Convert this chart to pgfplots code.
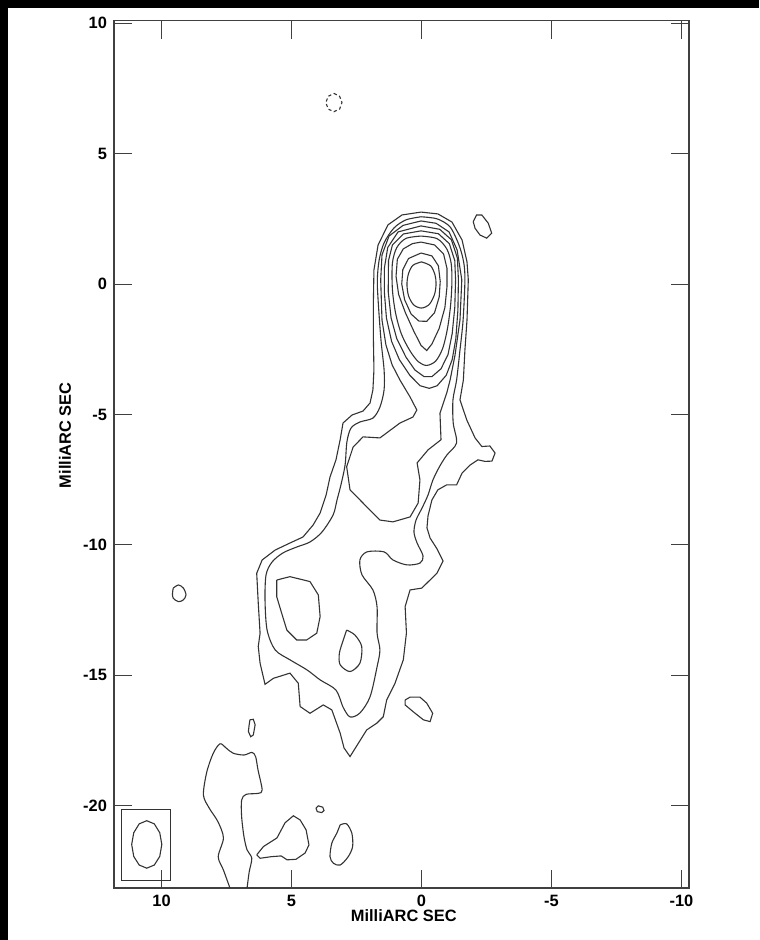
\documentclass[border=0pt]{standalone}
\usepackage{fontspec}
\setmainfont{Liberation Sans}
\usepackage{pgfplots}
\pgfplotsset{compat=1.18}
\begin{document}
\begin{tikzpicture}
\path[use as bounding box] (0,0) rectangle (379.5pt,470pt);
\fill[black] (0,466pt) rectangle (379.5pt,470pt);
\fill[black] (0,0) rectangle (4pt,470pt);
\begin{axis}[
  at={(57pt,26pt)}, anchor=south west,
  scale only axis, width=287.5pt, height=433.65pt,
  x dir=reverse,
  xmin=-10.29, xmax=11.83, ymin=-23.16, ymax=10.1,
  xtick={-10,-5,0,5,10}, ytick={-20,-15,-10,-5,0,5,10},
  tick align=inside, major tick length=9pt,
  axis line style={draw=black!75, line width=0.6pt},
  tick style={draw=black!75, line width=0.55pt},
  ticklabel style={font=\fontsize{8.2}{9.8}\selectfont\bfseries},
  /pgf/number format/assume math mode=true,
  xlabel={MilliARC SEC}, ylabel={MilliARC SEC},
  every axis x label/.style={at={(axis description cs:0.504,-0.0323)}, anchor=center, font=\fontsize{8.2}{9.8}\selectfont\bfseries},
  every axis y label/.style={at={(axis description cs:-0.0852,0.522)}, anchor=center, rotate=90, font=\fontsize{8.2}{9.8}\selectfont\bfseries},
  clip=true,
  cycle list={{black!80, smooth, tension=0.55}},
  every axis plot post/.append style={draw=black!80, line width=0.55pt, mark=none},
]
% ---- outer contour (lowest level) ----
\addplot coordinates {
(0.02,2.76) (-0.63,2.69) (-1.17,2.38) (-1.56,1.69) (-1.75,0.85) (-1.8,0.16) (-1.75,-1.38) (-1.67,-2.53) (-1.61,-3.68) (-1.48,-4.44) (-1.74,-5.21) (-2.06,-5.9) (-2.32,-6.23) (-2.63,-6.21) (-2.83,-6.48) (-2.71,-6.79) (-2.44,-6.8) (-2.17,-6.74) (-1.87,-6.94) (-1.56,-7.25) (-1.35,-7.7) (-0.97,-7.7) (-0.63,-7.89) (-0.4,-8.28) (-0.25,-8.89) (-0.21,-9.35) (-0.33,-9.74) (-0.6,-10.16) (-0.83,-10.62) (-0.6,-11.08) (-0.45,-11.23) (-0.01,-11.66) (0.44,-11.73) (0.63,-12.37) (0.58,-13.38) (0.7,-14.41) (1.02,-15.31) (1.34,-15.95) (1.47,-16.59) (1.72,-16.84) (2.11,-17.1) (2.43,-17.61) (2.75,-18.12) (2.98,-17.79) (3.13,-17.22) (3.45,-16.33) (3.78,-16.14) (4.29,-16.46) (4.67,-16.2) (4.74,-15.31) (5.06,-14.92) (5.7,-15.12) (6.02,-15.35) (6.21,-14.54) (6.28,-13.9) (6.21,-13.39) (6.28,-12.24) (6.34,-11.09) (6.13,-10.58) (5.63,-10.2) (5.06,-9.93) (4.56,-9.7) (4.17,-9.24) (3.9,-8.78) (3.67,-8.09) (3.52,-7.4) (3.29,-6.74) (3.13,-5.97) (3.02,-5.33) (2.67,-5.02) (2.25,-4.87) (1.98,-4.56) (1.87,-4.06) (1.83,-3.29) (1.85,-2.14) (1.85,-0.61) (1.83,0.54) (1.67,1.5) (1.29,2.27) (0.75,2.65) (0.02,2.76)
};
% ---- second contour ----
\addplot coordinates {
(0.02,2.58) (-0.6,2.5) (-1.1,2.19) (-1.44,1.5) (-1.62,0.85) (-1.67,0.16) (-1.6,-1.38) (-1.48,-2.53) (-1.35,-3.68) (-1.21,-4.44) (-1.22,-5.33) (-1.35,-6.09) (-0.98,-6.55) (-0.71,-6.97) (-0.44,-7.51) (-0.25,-8.09) (-0.02,-8.59) (0.21,-9.05) (0.29,-9.51) (0.17,-9.93) (-0.06,-10.43) (0.06,-10.7) (0.56,-10.77) (1.1,-10.58) (1.44,-10.27) (2.1,-10.27) (2.37,-10.58) (2.29,-11.15) (1.87,-11.73) (1.71,-12.38) (1.71,-13.38) (1.6,-14.03) (1.71,-14.68) (1.98,-15.83) (2.37,-16.45) (2.75,-16.6) (3.02,-16.22) (3.29,-15.57) (3.9,-15.18) (4.4,-14.8) (5.06,-14.41) (5.63,-14.03) (5.94,-13.27) (6.02,-12.12) (5.98,-11.15) (5.75,-10.66) (5.33,-10.31) (4.79,-10.08) (4.29,-9.89) (3.83,-9.51) (3.4,-8.85) (3.25,-8.28) (3.1,-7.7) (2.94,-6.94) (2.87,-6.05) (2.71,-5.52) (2.37,-5.29) (1.87,-5.14) (1.6,-4.72) (1.44,-4.06) (1.44,-3.29) (1.56,-2.14) (1.67,-0.61) (1.7,0.16) (1.63,0.92) (1.44,1.58) (1.06,2.15) (0.6,2.46) (0.02,2.58)
};
% ---- third contour ----
\addplot coordinates {
(0.02,2.42) (-0.56,2.33) (-1.06,2.0) (-1.37,1.31) (-1.55,0.16) (-1.48,-1.38) (-1.29,-2.72) (-1.1,-3.68) (-0.97,-4.18) (-0.71,-4.95) (-0.75,-5.97) (-0.25,-6.36) (0.17,-6.86) (0.06,-7.51) (0.13,-8.4) (0.44,-8.93) (1.1,-9.12) (1.6,-9.05) (2.1,-8.55) (2.75,-7.89) (2.88,-7.0) (2.63,-6.25) (2.25,-5.86) (1.6,-5.9) (1.33,-5.7) (0.83,-5.33) (0.33,-5.1) (0.18,-4.83) (0.44,-4.33) (0.83,-3.68) (1.13,-3.1) (1.37,-2.33) (1.52,-1.38) (1.57,0.16) (1.52,1.12) (1.25,1.84) (0.71,2.25) (0.02,2.42)
};
\addplot coordinates {
(5.57,-11.35) (5.06,-11.22) (4.29,-11.41) (3.97,-11.92) (3.9,-12.75) (4.03,-13.39) (4.42,-13.65) (4.8,-13.65) (5.18,-13.27) (5.38,-12.62) (5.57,-11.99) (5.57,-11.35)
};
\addplot coordinates {
(2.88,-13.27) (2.56,-13.46) (2.3,-13.9) (2.37,-14.54) (2.75,-14.86) (3.13,-14.6) (3.16,-14.16) (3.01,-13.65) (2.88,-13.27)
};
% ---- core contours ----
\addplot coordinates {
(0.02,2.23) (-0.7,2.1) (-1.15,1.7) (-1.38,1.0) (-1.42,0.16) (-1.4,-1.0) (-1.32,-2.1) (-1.18,-2.9) (-0.95,-3.5) (-0.6,-3.9) (-0.3,-4.0) (0.05,-3.9) (0.45,-3.5) (0.85,-2.9) (1.15,-2.2) (1.35,-1.3) (1.43,-0.3) (1.43,0.6) (1.3,1.4) (0.9,2.0) (0.02,2.23)
};
\addplot coordinates {
(0.02,2.04) (-0.65,1.93) (-1.07,1.55) (-1.28,0.9) (-1.31,0.16) (-1.28,-0.9) (-1.18,-1.9) (-1.02,-2.7) (-0.75,-3.25) (-0.4,-3.55) (-0.1,-3.55) (0.25,-3.3) (0.6,-2.8) (0.95,-2.1) (1.17,-1.3) (1.28,-0.3) (1.27,0.9) (1.12,1.5) (0.7,1.92) (0.02,2.04)
};
\addplot coordinates {
(0.02,1.84) (-0.6,1.74) (-0.97,1.35) (-1.14,0.8) (-1.17,0.1) (-1.12,-0.8) (-1.0,-1.7) (-0.82,-2.45) (-0.55,-2.95) (-0.2,-3.12) (0.12,-2.98) (0.45,-2.55) (0.78,-1.9) (1.0,-1.1) (1.12,-0.2) (1.12,0.8) (0.95,1.4) (0.6,1.75) (0.02,1.84)
};
\addplot coordinates {
(0.02,1.61) (-0.5,1.5) (-0.85,1.15) (-0.98,0.6) (-0.98,-0.1) (-0.9,-0.9) (-0.68,-1.7) (-0.4,-2.3) (-0.2,-2.55) (0.02,-2.35) (0.3,-1.8) (0.62,-1.1) (0.88,-0.4) (0.98,0.3) (0.93,0.95) (0.7,1.35) (0.35,1.55) (0.02,1.61)
};
\addplot coordinates {
(0.02,1.19) (-0.4,1.08) (-0.65,0.7) (-0.72,0.1) (-0.68,-0.5) (-0.5,-1.1) (-0.2,-1.43) (0.1,-1.42) (0.4,-1.15) (0.65,-0.6) (0.76,0.0) (0.72,0.55) (0.5,0.98) (0.02,1.19)
};
\addplot coordinates {
(0,0.85) (-0.35,0.7) (-0.52,0.35) (-0.56,0) (-0.5,-0.4) (-0.3,-0.78) (0,-0.92) (0.3,-0.8) (0.5,-0.45) (0.56,0) (0.5,0.4) (0.33,0.72) (0,0.85)
};
% ---- isolated features ----
\addplot+[dash pattern=on 1.6pt off 1.3pt] coordinates {
(3.37,7.31) (3.15,7.2) (3.06,6.96) (3.15,6.71) (3.37,6.61) (3.59,6.71) (3.68,6.96) (3.59,7.2) (3.37,7.31)
};
\addplot coordinates {
(-1.99,2.39) (-2.12,2.65) (-2.32,2.65) (-2.57,2.33) (-2.7,1.95) (-2.51,1.76) (-2.25,1.88) (-2.06,2.14) (-1.99,2.39)
};
\addplot coordinates {
(9.55,-11.66) (9.35,-11.54) (9.16,-11.66) (9.06,-11.92) (9.16,-12.11) (9.35,-12.18) (9.55,-12.05) (9.58,-11.86) (9.55,-11.66)
};
\addplot coordinates {
(6.6,-16.71) (6.47,-16.69) (6.4,-16.9) (6.47,-17.29) (6.57,-17.36) (6.66,-17.16) (6.63,-16.9) (6.6,-16.71)
};
\addplot coordinates {
(0.63,-15.95) (0.44,-15.84) (0.06,-15.84) (-0.2,-16.07) (-0.43,-16.46) (-0.33,-16.78) (-0.07,-16.71) (0.32,-16.4) (0.63,-16.14) (0.63,-15.95)
};
\addplot coordinates {
(7.37,-23.16) (7.62,-22.47) (7.82,-21.96) (7.62,-21.24) (7.83,-20.62) (8.17,-20.09) (8.39,-19.59) (8.26,-18.71) (8.01,-17.99) (7.75,-17.63) (7.52,-17.79) (7.25,-17.99) (6.83,-18.06) (6.52,-17.96) (6.38,-18.13) (6.29,-18.63) (6.13,-19.4) (6.28,-19.53) (6.75,-19.57) (6.92,-19.79) (6.92,-20.42) (6.83,-21.19) (6.71,-21.7) (6.53,-22.02) (6.63,-22.55) (6.71,-23.16)
};
\addplot coordinates {
(6.34,-21.89) (6.08,-21.57) (5.56,-21.24) (5.25,-20.66) (4.93,-20.39) (4.67,-20.55) (4.44,-20.93) (4.33,-21.51) (4.48,-21.82) (4.83,-22.06) (5.17,-22.08) (5.4,-21.93) (5.79,-21.96) (6.21,-22.02) (6.34,-21.89)
};
\addplot coordinates {
(4.06,-20.1) (3.97,-20.01) (3.8,-20.06) (3.75,-20.19) (3.84,-20.27) (4.01,-20.23) (4.06,-20.1)
};
\addplot coordinates {
(3.13,-20.74) (2.88,-20.7) (2.68,-21.06) (2.65,-21.57) (2.82,-21.96) (3.13,-22.28) (3.39,-22.21) (3.52,-21.96) (3.45,-21.44) (3.26,-21.06) (3.13,-20.74)
};
% ---- beam ----
\addplot+[sharp plot] coordinates {
(11.53,-20.14) (9.65,-20.14) (9.65,-22.86) (11.53,-22.86) (11.53,-20.14)
};
\addplot coordinates {
(10.57,-20.58) (10.28,-20.7) (10.07,-21.04) (9.99,-21.49) (10.07,-21.95) (10.28,-22.28) (10.57,-22.4) (10.86,-22.28) (11.07,-21.95) (11.15,-21.49) (11.07,-21.04) (10.86,-20.7) (10.57,-20.58)
};
\end{axis}
\end{tikzpicture}
\end{document}
